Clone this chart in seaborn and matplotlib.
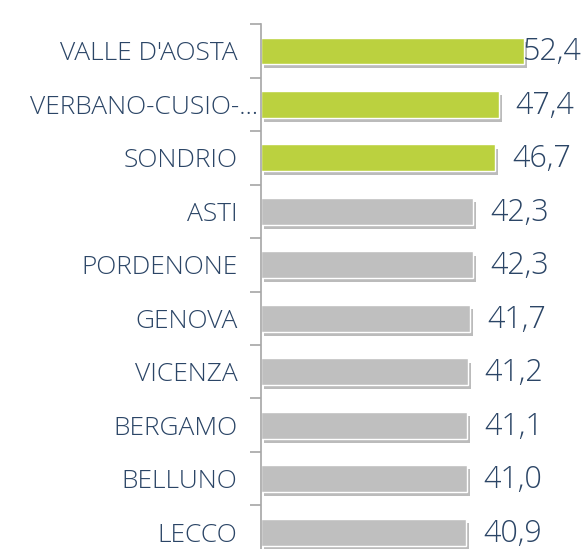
import matplotlib
matplotlib.use("Agg")
import matplotlib.pyplot as plt
import matplotlib.patheffects as pe
import matplotlib.transforms as mtransforms
import seaborn as sns
import pandas as pd

provinces = ["VALLE D'AOSTA", "VERBANO-CUSIO-…", "SONDRIO", "ASTI", "PORDENONE",
             "GENOVA", "VICENZA", "BERGAMO", "BELLUNO", "LECCO"]
values = [52.4, 47.4, 46.7, 42.3, 42.3, 41.7, 41.2, 41.1, 41.0, 40.9]
groups = ["top", "top", "top", "other", "other", "other", "other", "other", "other", "other"]

GREEN = "#BBD13F"
GREY = "#BFBFBF"
TEXT = "#2B4566"


def main():
    sns.set_style("white")
    plt.rcParams["font.family"] = ["Open Sans", "DejaVu Sans"]

    df = pd.DataFrame({"province": provinces, "value": values, "group": groups})

    fig = plt.figure(figsize=(5.86, 5.49), dpi=100)
    ax = fig.add_axes([0.4454, -0.018, 0.514, 0.974])

    sns.barplot(data=df, y="province", x="value", hue="group",
                palette={"top": GREEN, "other": GREY}, orient="h",
                width=0.5, dodge=False, legend=False, ax=ax, saturation=1)

    for bar in ax.patches:
        bar.set_path_effects([pe.SimplePatchShadow(offset=(2, -3), alpha=0.4,
                                                   shadow_rgbFace="#555555"),
                              pe.Normal()])

    for i, v in enumerate(values):
        off = -1 if i == 0 else 12
        ax.annotate(f"{v:.1f}".replace(".", ","), xy=(v, i), xytext=(off, -1),
                    textcoords="offset points", va="center", ha="left",
                    fontsize=22, color=TEXT, fontweight="light")

    ax.set_xlim(0, 60)
    ax.set_ylim(len(values) - 0.5, -0.5)
    ax.set_xlabel("")
    ax.set_ylabel("")
    ax.set_xticks([])
    ax.tick_params(axis="y", which="major", left=False, length=0, pad=17,
                   labelsize=19, labelcolor=TEXT)
    ax.set_yticks([i + 0.5 for i in range(-1, len(values))], minor=True)
    ax.tick_params(axis="y", which="minor", left=True, length=8, width=1.2,
                   color="#A6A6A6")
    for lab in ax.get_yticklabels():
        lab.set_fontweight("light")
        if lab.get_text().startswith("VERBANO"):
            lab.set_transform(lab.get_transform() +
                              mtransforms.ScaledTranslation(0.21, 0, fig.dpi_scale_trans))

    for s in ["top", "right", "bottom"]:
        ax.spines[s].set_visible(False)
    ax.spines["left"].set_color("#A6A6A6")
    ax.spines["left"].set_linewidth(1.2)

    fig.savefig("out.png", dpi=100)


if __name__ == "__main__":
    main()
